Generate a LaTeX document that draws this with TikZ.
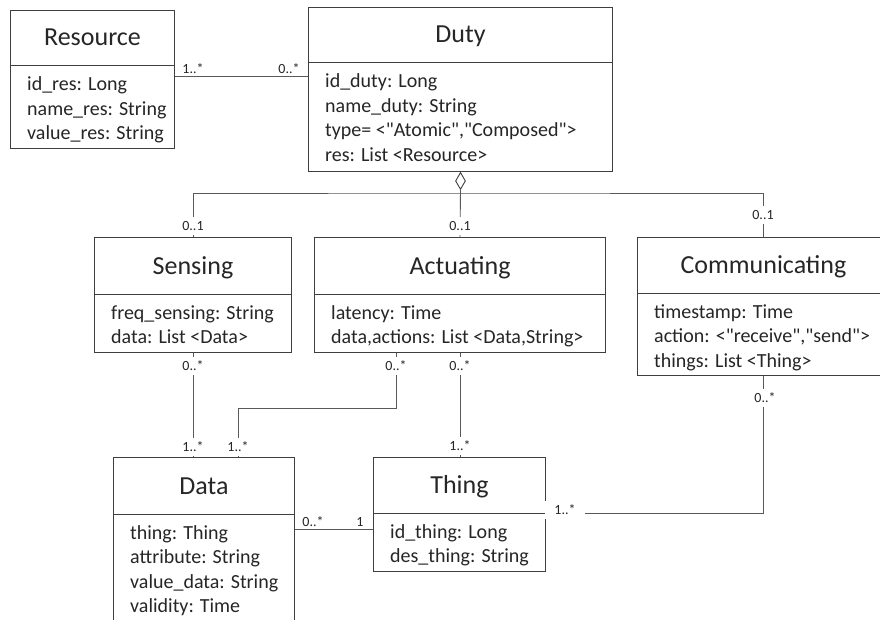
\documentclass[tikz,border=0pt]{standalone}
\usepackage{fontspec}
\setmainfont{Carlito}[Ligatures=TeXOff]
\usetikzlibrary{shapes.geometric}
\definecolor{ink}{HTML}{262626}
\definecolor{boxline}{HTML}{3F3F3F}
\definecolor{wirecol}{HTML}{595959}
\tikzset{
  classbox/.style={draw=boxline, line width=1pt, inner sep=0pt, anchor=north west},
  divider/.style={draw=boxline, line width=1pt},
  classtitle/.style={font=\fontsize{26}{31}\selectfont, text=ink, inner sep=0pt, anchor=base},
  attrline/.style={font=\fontsize{20}{24}\selectfont, text=ink, inner sep=0pt, anchor=base west},
  wire/.style={draw=wirecol, line width=0.9pt},
  multlbl/.style={font=\fontsize{14}{16}\selectfont, text=ink, inner sep=0pt},
  multcut/.style={multlbl, fill=white, inner xsep=3pt, minimum height=18pt},
  aggr/.style={diamond, draw=boxline, line width=0.9pt, fill=white, inner sep=0pt, minimum width=10pt, minimum height=17pt, anchor=north},
}
\newcommand\umlattrs[3]{%
  \foreach \t [count=\i] in {#3} {%
    \node[attrline] (#1A\i) at ([xshift=17pt,yshift={-(#2+24.5*(\i-1))*1pt}]#1.north west) {\t};}}
\newcommand\umldivider[2]{%
  \draw[divider] ([yshift=-#2pt]#1.north west) -- ([yshift=-#2pt]#1.north east);}
\begin{document}
\begin{tikzpicture}[x=1pt,y=-1pt]
\clip (0,0) rectangle (880,620);
\fill[white] (0,0) rectangle (880,620);
% ---------- class boxes ----------
\node[classbox, minimum width=164pt, minimum height=138pt] (res) at (10,10) {};
\node[classbox, minimum width=304pt, minimum height=164pt] (duty) at (308,7) {};
\node[classbox, minimum width=197pt, minimum height=115pt] (sens) at (94,237) {};
\node[classbox, minimum width=291pt, minimum height=115pt] (act) at (314,237) {};
\node[classbox, minimum width=252pt, minimum height=138pt] (comm) at (637,237) {};
\node[classbox, minimum width=181pt, minimum height=200pt] (data) at (113,457) {};
\node[classbox, minimum width=172pt, minimum height=114pt] (thing) at (373,457) {};
% dividers
\umldivider{res}{56}
\umldivider{duty}{56}
\umldivider{sens}{57}
\umldivider{act}{57}
\umldivider{comm}{56}
\umldivider{data}{57}
\umldivider{thing}{56}
% titles
\node[classtitle] (resT) at ([yshift=-36pt]res.north) {Resource};
\node[classtitle] (dutyT) at ([yshift=-36pt]duty.north) {Duty};
\node[classtitle] (sensT) at ([yshift=-37pt]sens.north) {Sensing};
\node[classtitle] (actT) at ([yshift=-37pt]act.north) {Actuating};
\node[classtitle] (commT) at ([yshift=-36pt]comm.north) {Communicating};
\node[classtitle] (dataT) at ([yshift=-37pt]data.north) {Data};
\node[classtitle] (thingT) at ([yshift=-36pt]thing.north) {Thing};
% attributes
\umlattrs{res}{81}{{id\_res: Long},{name\_res: String},{value\_res: String}}
\umlattrs{duty}{81}{{id\_duty: Long},{name\_duty: String},{type= <"Atomic","Composed">},{res: List <Resource>}}
\umlattrs{sens}{82}{{freq\_sensing: String},{data: List <Data>}}
\umlattrs{act}{82}{{latency: Time},{data,actions: List <Data,String>}}
\umlattrs{comm}{81}{{timestamp: Time},{action: <"receive","send">},{things: List <Thing>}}
\umlattrs{data}{82}{{thing: Thing},{attribute: String},{value\_data: String},{validity: Time}}
\umlattrs{thing}{81}{{id\_thing: Long},{des\_thing: String}}
% ---------- connectors ----------
% Resource -- Duty
\coordinate (rd) at ([yshift=3pt]res.east);
\draw[wire] (rd) -- (rd -| duty.west);
\node[multlbl] (rdL1) at (193,69) {1..*};
\node[multlbl] (rdL2) at (289,69) {0..*};
% aggregation Duty <>-- Sensing / Actuating / Communicating
\node[aggr] (dia) at (duty.south) {};
\coordinate (bus) at (460,193);
\draw[wire] (dia.south) -- (act.north);
\draw[wire] (sens.north) |- (bus) -| (comm.north);
\node[multcut] (sensL) at (193,226) {0..1};
\node[multcut] (actL) at (460,226) {0..1};
\node[multcut] (commL) at (763,215) {0..1};
% Sensing -- Data
\draw[wire] (sens.south) -- (sens.south |- data.north);
\node[multcut] (sdL1) at (193,366) {0..*};
\node[multcut] (sdL2) at (193,447) {1..*};
% Actuating -- Data
\coordinate (adA) at ([xshift=-63.5pt]act.south);
\coordinate (adB) at ([xshift=34.5pt]data.north);
\draw[wire] (adA) -- ++(0,55) -| (adB);
\node[multcut] (adL1) at (396,366) {0..*};
\node[multcut] (adL2) at (238,447) {1..*};
% Actuating -- Thing
\draw[wire] (act.south) -- (act.south |- thing.north);
\node[multcut] (atL1) at (460,366) {0..*};
\node[multcut] (atL2) at (460,446) {1..*};
% Data -- Thing
\coordinate (dtA) at ([yshift=-72pt]data.north east);
\draw[wire] (dtA) -- (dtA -| thing.west);
\node[multlbl] (dtL1) at (313,522) {0..*};
\node[multlbl] (dtL2) at (360,522) {1};
% Communicating -- Thing
\coordinate (ctB) at ([yshift=-56pt]thing.north east);
\draw[wire] (comm.south) |- (ctB);
\node[multcut] (ctL1) at (765,398) {0..*};
\node[multcut, minimum width=40pt] (ctL2) at (565,510) {1..*};
\end{tikzpicture}
\end{document}
